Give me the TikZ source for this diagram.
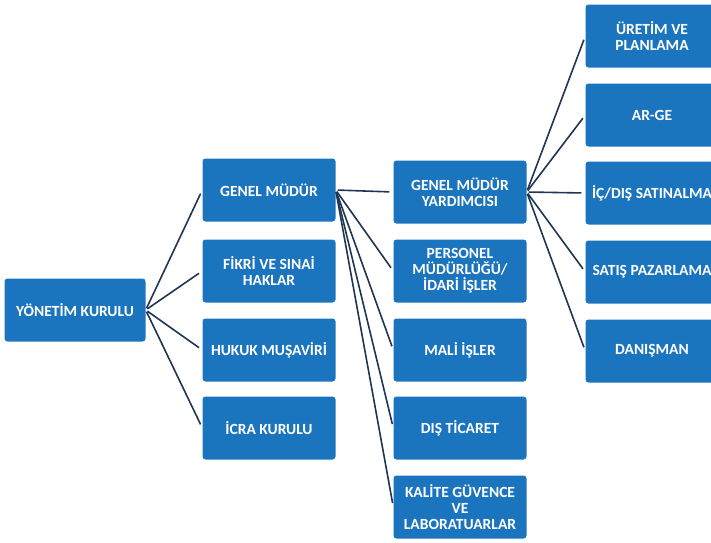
\documentclass[tikz,border=0pt]{standalone}
\usepackage{fontspec}
\usepackage{tikz}
\newfontfamily\unitfont{Carlito}
\definecolor{unitblue}{HTML}{1B74BE}
\definecolor{linknavy}{HTML}{1E3654}
\tikzstyle{unit}=[rectangle,rounded corners=3pt,fill=unitblue,text=white,minimum width=133pt,minimum height=63pt,inner sep=0pt,align=center,font={\unitfont\bfseries\fontsize{15.5}{16}\selectfont}]
\tikzstyle{top unit} = [unit, minimum width=141pt]
\tikzstyle{link} = [draw,line width=1.6pt,linknavy,shorten <=2pt,shorten >=4pt]

\begin{document}
\begin{tikzpicture}[x=1pt,y=-1pt]
    \useasboundingbox (0,0) rectangle (711,542);
    \clip (0,0) rectangle (711,542);
    % Board on the left
    \node[top unit] (YK) at (75,310) {YÖNETİM KURULU};
    % Units under the board
    \foreach \pos/\name/\txt in {{(269,190)/GM/{GENEL MÜDÜR}}, {(269,271)/FS/{FİKRİ VE SINAİ\\HAKLAR}},
        {(269,350)/HM/{HUKUK MUŞAVİRİ}}, {(269,428)/IK/{İCRA KURULU}}}
        \node[unit] (\name) at \pos {\txt};
    % Units under the general manager
    \foreach \pos/\name/\txt in {{(460,192)/GMY/{GENEL MÜDÜR\\YARDIMCISI}}, {(460,271)/PM/{PERSONEL\\MÜDÜRLÜĞÜ/\\İDARİ İŞLER}},
        {(460,350)/MI/{MALİ İŞLER}}, {(460,428)/DT/{DIŞ TİCARET}}, {(460,507)/KG/{KALİTE GÜVENCE\\VE\\LABORATUARLAR}}}
        \node[unit] (\name) at \pos {\txt};
    % Units under the assistant general manager
    \foreach \pos/\name/\txt in {{(652,36)/UP/{ÜRETİM VE\\PLANLAMA}}, {(652,115)/AG/{AR-GE}}, {(652,193)/IDS/{İÇ/DIŞ SATINALMA}},
        {(652,272)/SP/{SATIŞ PAZARLAMA}}, {(652,351)/DN/{DANIŞMAN}}}
        \node[unit] (\name) at \pos {\txt};
    % Connect units with lines
    \foreach \source/ \dest in {YK/GM, YK/FS, YK/HM, YK/IK, GM/GMY, GM/PM, GM/MI, GM/DT, GM/KG,
        GMY/UP, GMY/AG, GMY/IDS, GMY/SP, GMY/DN}
        \path[link] (\source.east) -- (\dest.west) ;

\end{tikzpicture}
\end{document}
